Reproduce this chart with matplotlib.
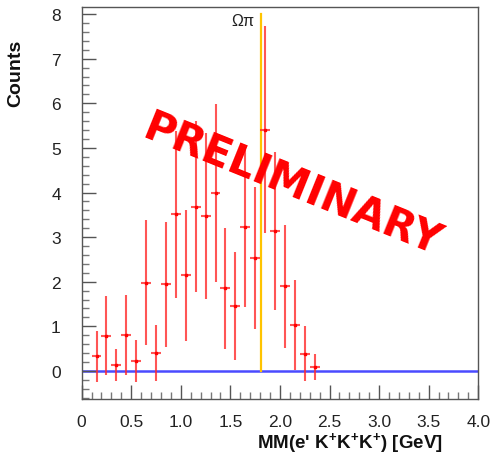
import numpy as np
import matplotlib
matplotlib.use("Agg")
import matplotlib.pyplot as plt
from matplotlib.ticker import MultipleLocator

plt.rcParams['font.family'] = ['Liberation Sans', 'DejaVu Sans']
plt.rcParams['mathtext.fontset'] = 'custom'
plt.rcParams['mathtext.bf'] = 'Liberation Sans:bold'
plt.rcParams['mathtext.rm'] = 'Liberation Sans'

# Histogram of missing mass, 0.1 GeV bins
bin_centers = [0.15, 0.25, 0.35, 0.45, 0.55, 0.65, 0.75, 0.85, 0.95, 1.05,
               1.15, 1.25, 1.35, 1.45, 1.55, 1.65, 1.75, 1.85, 1.95, 2.05,
               2.15, 2.25, 2.35]
counts = [0.33, 0.79, 0.13, 0.81, 0.22, 1.98, 0.40, 1.94, 3.51, 2.14,
          3.68, 3.47, 3.99, 1.85, 1.46, 3.23, 2.53, 5.41, 3.13, 1.90,
          1.02, 0.38, 0.09]
bin_width = 0.1
errors = np.sqrt(np.array(counts))

omega_pi_mass = 1.804   # Omega + pi threshold marker
threshold_top = 8.0

fig = plt.figure(figsize=(4.92, 4.56), dpi=100)
ax = fig.add_axes([0.166, 0.1228, 0.806, 0.8597])

ax.set_xlim(0, 4.0)
ax.set_ylim(-0.63, 8.16)

ax.axhline(0, color='#4a4aff', lw=1.8, zorder=1)
ax.plot([omega_pi_mass, omega_pi_mass], [0, threshold_top],
        color='#ffc400', lw=1.6, zorder=2)
ax.text(omega_pi_mass - 0.06, 7.85, 'Ωπ', ha='right', va='center',
        fontsize=11.5, color='#222222')

ax.errorbar(bin_centers, counts, yerr=errors, xerr=bin_width / 2,
            fmt='none', ecolor='#ff2a2a', elinewidth=1.5, alpha=0.8,
            capsize=0, zorder=3)
ax.plot(bin_centers, counts, ls='none', marker='s', ms=1.6,
        color='#ff0000', zorder=4)

ax.text(2.12, 4.18, 'PRELIMINARY', color='#ff0000', fontsize=30,
        family='DejaVu Sans', fontweight='bold', rotation=-22,
        ha='center', va='center', rotation_mode='anchor', zorder=5)

ax.xaxis.set_minor_locator(MultipleLocator(0.1))
ax.yaxis.set_minor_locator(MultipleLocator(0.2))
ax.set_xticks(np.arange(0, 4.01, 0.5))
ax.set_xticklabels(['0', '0.5', '1.0', '1.5', '2.0', '2.5', '3.0', '3.5', '4.0'])
ax.set_yticks(range(0, 9))

ax.tick_params(axis='both', which='major', direction='in', length=10,
               width=1, color='#555555', labelsize=12.5, labelcolor='#222222')
ax.tick_params(axis='both', which='minor', direction='in', length=5,
               width=1, color='#777777')
ax.tick_params(axis='x', pad=11)
ax.tick_params(axis='y', pad=15)

for side in ['left', 'bottom', 'top', 'right']:
    ax.spines[side].set_color('#555555')
    ax.spines[side].set_linewidth(1.0)

fig.text(443 / 492, 1 - 449 / 456,
         r"MM(e' K$^{\mathbf{+}}$K$^{\mathbf{+}}$K$^{\mathbf{+}}$) [GeV]",
         ha='right', va='baseline', fontsize=13.5, fontweight='bold',
         color='#111111')
fig.text(16 / 492, 1 - 40 / 456, 'Counts', ha='center', va='top',
         rotation=90, fontsize=14, fontweight='bold', color='#111111')

fig.savefig('out.png', dpi=100)
